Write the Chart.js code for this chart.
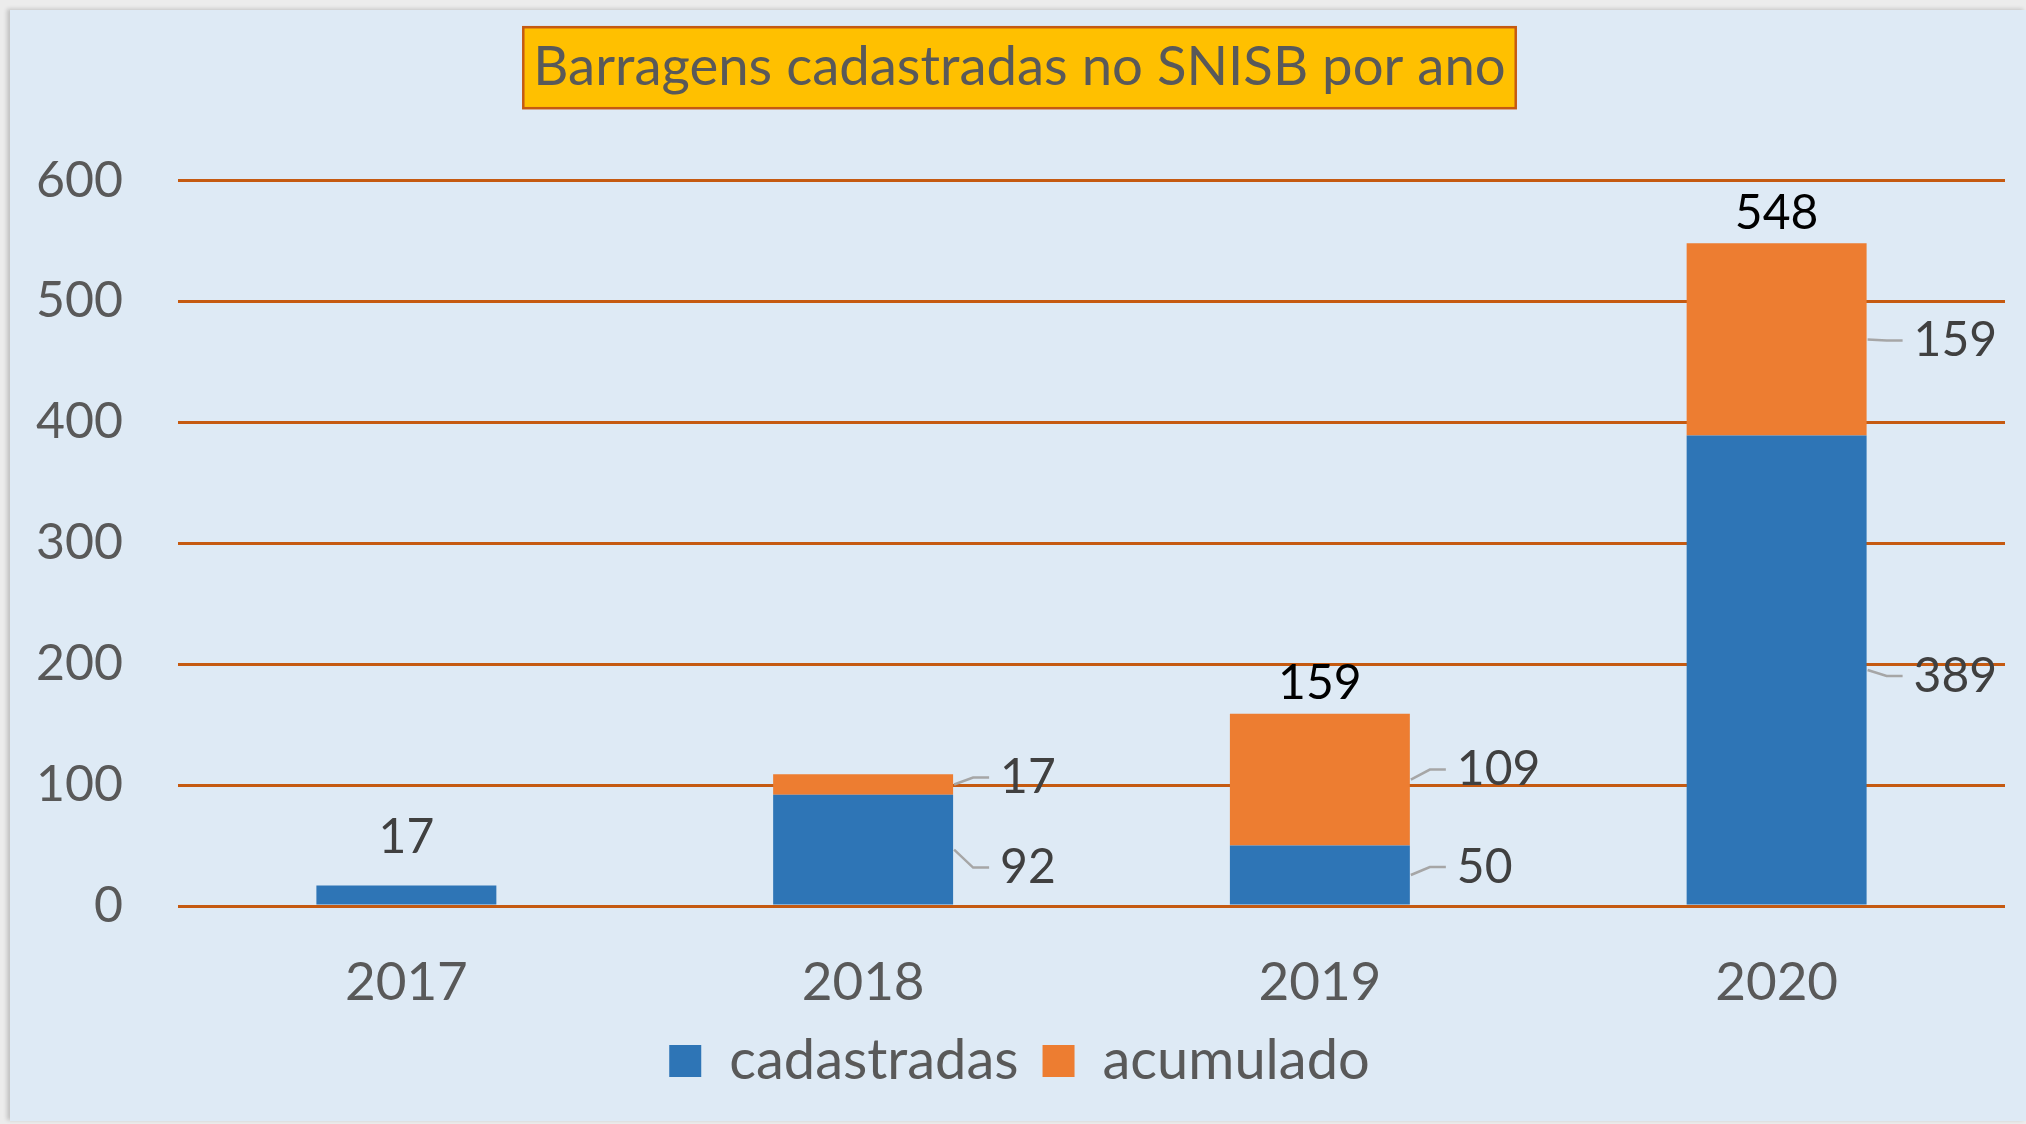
<!DOCTYPE html>
<html lang="pt-BR">
<head>
<meta charset="utf-8">
<title>Barragens cadastradas no SNISB por ano</title>
<script src="https://cdn.jsdelivr.net/npm/chart.js@4.4.1/dist/chart.umd.min.js"></script>
<style>
  html, body { margin: 0; padding: 0; }
  body { width: 2026px; height: 1124px; background: #ececec; overflow: hidden; position: relative; }
  .panel { position: absolute; left: 10px; top: 10px; width: 2016px; height: 1111px; background: #deeaf5; box-shadow: -3px -1px 4px rgba(0,0,0,0.18); }
  canvas { display: block; }
</style>
</head>
<body>
<div class="panel"><canvas id="chart" width="2032" height="1111"></canvas></div>
<script>
const anos = ['2017', '2018', '2019', '2020'];
const cadastradas = [17, 92, 50, 389];
const acumulado = [0, 17, 109, 159];
const totais = [null, null, 159, 548];
const yTicks = [0, 100, 200, 300, 400, 500, 600];
const titulo = 'Barragens cadastradas no SNISB por ano';

// label nudges (px) so the side labels don't collide; 'topo' = above the bar
const ajusteCad = ['topo', 18, -8, 6];
const ajusteAcu = [0, -7, -10, 1];

const FONT = 'Lato, "Open Sans", sans-serif';
const TITLE_SIZE = 54.5;
const TITLE_PAD_TOP = 25;

const caixaTitulo = {
    id: 'caixaTitulo',
    beforeDraw(chart) {
        const tb = chart.titleBlock;
        if (!tb) return;
        const ctx = chart.ctx;
        ctx.save();
        ctx.font = `${TITLE_SIZE}px ${FONT}`;
        const w = ctx.measureText(titulo).width + 20;
        const h = 81;
        const cx = (tb.left + tb.right) / 2;
        const cy = tb.top + TITLE_PAD_TOP + TITLE_SIZE * 1.2 / 2;
        ctx.fillStyle = '#ffc000';
        ctx.fillRect(cx - w / 2, cy - h / 2, w, h);
        ctx.strokeStyle = '#c55a11';
        ctx.lineWidth = 2.5;
        ctx.strokeRect(cx - w / 2, cy - h / 2, w, h);
        ctx.restore();
    }
};

const rotulos = {
    id: 'rotulos',
    afterDatasetsDraw(chart) {
        const ctx = chart.ctx;
        const ajustes = [ajusteCad, ajusteAcu];
        ctx.save();
        ctx.font = `48px ${FONT}`;
        ctx.textBaseline = 'middle';
        chart.data.datasets.forEach((ds, di) => {
            const meta = chart.getDatasetMeta(di);
            meta.data.forEach((bar, i) => {
                const v = ds.data[i];
                if (!v) return;
                const { x, y, base, width } = bar.getProps(['x', 'y', 'base', 'width'], true);
                const aj = ajustes[di][i];
                ctx.fillStyle = '#404040';
                if (aj === 'topo') {
                    ctx.textAlign = 'center';
                    ctx.fillText(String(v), x, y - 48);
                    return;
                }
                const mid = (y + base) / 2;
                const right = x + width / 2;
                const ly = mid + aj;
                ctx.strokeStyle = '#a6a6a6';
                ctx.lineWidth = 2.5;
                ctx.beginPath();
                ctx.moveTo(right + 1, mid);
                ctx.lineTo(right + 20, ly);
                ctx.lineTo(right + 36, ly);
                ctx.stroke();
                ctx.textAlign = 'left';
                ctx.fillText(String(v), right + 47, ly);
            });
        });
        // totals over the stacks
        const meta0 = chart.getDatasetMeta(0);
        ctx.fillStyle = '#000000';
        ctx.textAlign = 'center';
        totais.forEach((t, i) => {
            if (t == null) return;
            const top = chart.scales.y.getPixelForValue(t);
            ctx.fillText(String(t), meta0.data[i].x, top - 30);
        });
        ctx.restore();
    }
};

new Chart(document.getElementById('chart'), {
    type: 'bar',
    data: {
        labels: anos,
        datasets: [
            { label: 'cadastradas', data: cadastradas, backgroundColor: '#2e75b6', borderWidth: 0 },
            { label: 'acumulado', data: acumulado, backgroundColor: '#ed7d31', borderWidth: 0 }
        ]
    },
    options: {
        responsive: false,
        animation: false,
        layout: { padding: { top: 0, left: 24, right: 37, bottom: 22 } },
        datasets: { bar: { categoryPercentage: 1, barPercentage: 0.394 } },
        plugins: {
            title: {
                display: true,
                text: titulo,
                color: '#595959',
                font: { family: FONT, size: TITLE_SIZE, weight: 'normal', lineHeight: 1.2 },
                padding: { top: TITLE_PAD_TOP, bottom: 80 }
            },
            legend: {
                position: 'bottom',
                labels: {
                    boxWidth: 32, boxHeight: 32, padding: 24,
                    color: '#595959',
                    font: { family: FONT, size: 56 }
                }
            },
            tooltip: { enabled: false }
        },
        scales: {
            x: {
                stacked: true,
                grid: { display: false, drawTicks: false },
                border: { display: false },
                ticks: { color: '#595959', font: { family: FONT, size: 53, lineHeight: 1 }, padding: 50 },
                afterFit: s => { s.height = 103; }
            },
            y: {
                stacked: true,
                min: 0,
                max: 600,
                afterBuildTicks: s => { s.ticks = yTicks.map(v => ({ value: v })); },
                grid: { color: '#c55a11', lineWidth: 3, drawTicks: false },
                border: { display: false },
                ticks: { color: '#595959', font: { family: FONT, size: 50 }, padding: 55 },
                afterFit: s => { s.width = 144; }
            }
        }
    },
    plugins: [caixaTitulo, rotulos]
});
</script>
</body>
</html>
